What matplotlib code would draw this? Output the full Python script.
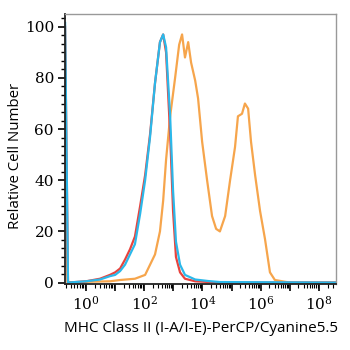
import matplotlib
matplotlib.use("Agg")
import matplotlib.pyplot as plt
import numpy as np
from matplotlib.ticker import LogLocator, NullFormatter, MultipleLocator

plt.rcParams["mathtext.fontset"] = "dejavuserif"

# positions as log10 of fluorescence, values as relative cell number
red_log = [-0.72, -0.62, 0.0, 0.48, 0.82, 1.0, 1.17, 1.34, 1.51, 1.68, 1.86, 2.03, 2.2, 2.37,
           2.54, 2.65, 2.75, 2.89, 2.99, 3.09, 3.23, 3.4, 3.75, 4.6, 8.6]
red_val = [100, 0, 0.5, 1.5, 3, 4, 5.5, 9, 13, 18, 30, 42, 58, 78,
           94, 97, 90, 58, 28, 10, 4, 1.5, 0.5, 0, 0]

cyan_log = [-0.72, -0.62, 0.0, 0.48, 0.82, 1.0, 1.17, 1.34, 1.51, 1.68, 1.86, 2.03, 2.2, 2.37,
            2.54, 2.65, 2.75, 2.89, 2.99, 3.09, 3.23, 3.4, 3.75, 4.2, 4.6, 8.6]
cyan_val = [101.5, 0, 0.5, 1.2, 2.5, 3, 4.5, 7, 11, 15, 27, 40, 57, 78,
            94, 97, 92, 65, 36, 16, 7, 3, 1.2, 0.6, 0.2, 0]

orange_log = [-0.72, -0.64, 0.0, 0.82, 1.17, 1.68, 2.03, 2.2, 2.37, 2.54, 2.65, 2.75, 2.89,
              3.06, 3.2, 3.3, 3.4, 3.51, 3.61, 3.75, 3.85, 3.99, 4.16, 4.33, 4.47, 4.6,
              4.78, 4.95, 5.12, 5.22, 5.36, 5.46, 5.57, 5.67, 5.81, 5.98, 6.15, 6.32,
              6.49, 7.0, 8.6]
orange_val = [53, 0, 0.3, 0.5, 1, 1.5, 3, 7, 11, 20, 32, 48, 65,
              80, 93, 97, 88, 94, 86, 79, 72, 55, 40, 26, 21, 20,
              26, 40, 53, 65, 66, 70, 68, 55, 42, 28, 17, 4,
              1, 0, 0]

x_label = "MHC Class II (I-A/I-E)-PerCP/Cyanine5.5"
y_label = "Relative Cell Number"

fig = plt.figure(figsize=(3.5, 3.5), dpi=100)
ax = fig.add_axes([0.186, 0.189, 0.774, 0.771])

ax.plot(10 ** np.array(orange_log), orange_val, color="#f6a54c", lw=1.6)
ax.plot(10 ** np.array(red_log), red_val, color="#e8433d", lw=1.6)
ax.plot(10 ** np.array(cyan_log), cyan_val, color="#2bb8ea", lw=1.6)

ax.set_xscale("log")
ax.set_xlim(10 ** -0.72, 10 ** 8.59)
ax.set_ylim(-0.5, 105)

ax.xaxis.set_minor_locator(LogLocator(base=10, subs=np.arange(2, 10), numticks=20))
ax.xaxis.set_minor_formatter(NullFormatter())
ax.set_xticks([10.0 ** k for k in range(0, 9)])
ax.set_xticklabels([r"$10^{%d}$" % k if k % 2 == 0 else "" for k in range(0, 9)],
                   fontsize=11)

ax.yaxis.set_major_locator(MultipleLocator(20))
ax.yaxis.set_minor_locator(MultipleLocator(20 / 6))
ax.tick_params(axis="y", labelsize=11, length=5, width=1.2, pad=3)
ax.tick_params(axis="y", which="minor", length=3, width=1)
ax.tick_params(axis="x", length=5, width=1.2, pad=3)
ax.tick_params(axis="x", which="minor", length=3, width=0.8)
for lbl in ax.get_yticklabels():
    lbl.set_fontfamily("DejaVu Serif")

for s in ["left", "bottom"]:
    ax.spines[s].set_color("#222222")
    ax.spines[s].set_linewidth(1.3)
for s in ["top", "right"]:
    ax.spines[s].set_color("#999999")
    ax.spines[s].set_linewidth(1.0)

ax.set_xlabel(x_label, family="Open Sans", fontsize=11, labelpad=6)
ax.set_ylabel(y_label, family="Open Sans", fontsize=10.8)
ax.yaxis.set_label_coords(-0.155, 0.475)

fig.savefig("out.png", dpi=100)
